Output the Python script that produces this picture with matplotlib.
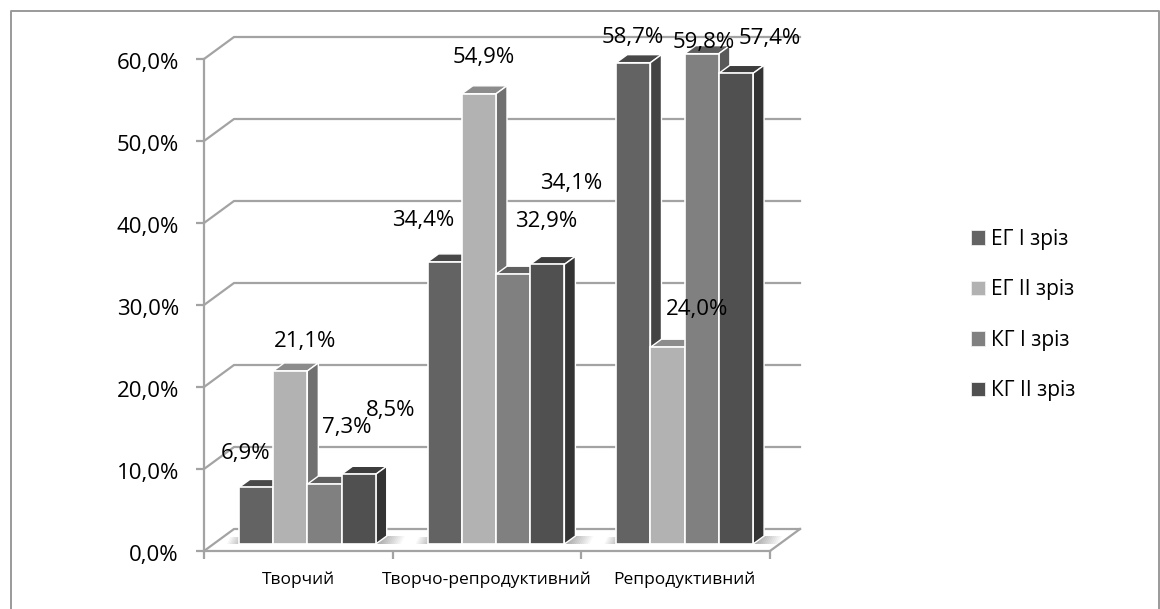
import numpy as np
import matplotlib
matplotlib.use("Agg")
import matplotlib.pyplot as plt
from matplotlib.lines import Line2D
from matplotlib.patches import Patch, Polygon
from matplotlib.transforms import ScaledTranslation

categories = ["Творчий", "Творчо-репродуктивний", "Репродуктивний"]
series_names = ["ЕГ І зріз", "ЕГ ІІ зріз", "КГ І зріз", "КГ ІІ зріз"]
eg_1 = [6.9, 34.4, 58.7]
eg_2 = [21.1, 54.9, 24.0]
kg_1 = [7.3, 32.9, 59.8]
kg_2 = [8.5, 34.1, 57.4]
y_ticks = [0, 10, 20, 30, 40, 50, 60]

# front, top and side shades of each series
front_colors = ["#636363", "#b2b2b2", "#808080", "#505050"]
top_colors = ["#484848", "#8c8c8c", "#5f5f5f", "#3d3d3d"]
side_colors = ["#434343", "#707070", "#595959", "#333333"]
grid_color = "#a3a3a3"

W, H = 1160, 609
plt.rcParams["font.family"] = ["Open Sans", "DejaVu Sans"]


def fmt(v):
    return f"{v:.1f}".replace(".", ",") + "%"


fig = plt.figure(figsize=(W / 100, H / 100), dpi=100, facecolor="white")
ax = fig.add_axes([204 / W, (H - 551) / H, 566 / W, 492 / H])
ax.set_xlim(0, 3)
ax.set_ylim(0, 60)
ax.patch.set_alpha(0)

# pixel sizes expressed in data units
ux = 3 / 566
uy = 60 / 492
depth_x, depth_y = 30 * ux, 22 * uy
bar_w = 34.2 * ux
bar_dx, bar_dy = 9 * ux, 7 * uy
cap_x, cap_y = 11 * ux, 8 * uy

# walls and floor
for t in y_ticks:
    ax.plot([0, depth_x, 3 + depth_x], [t, t + depth_y, t + depth_y],
            color=grid_color, lw=1.6, clip_on=False, zorder=1)
ax.plot([3, 3 + depth_x], [0, depth_y], color=grid_color, lw=1.6, clip_on=False, zorder=1)


def floor_shadow(x0, y0, zorder=2):
    # soft grey shadow on the floor, fading away from the bars
    steps = 12
    for k in range(steps):
        a = x0 + k * 2 * ux
        shade = Polygon([(a, y0), (a + 2.2 * ux, y0), (a + 6 * ux, y0 + 8 * uy), (a + 3.8 * ux, y0 + 8 * uy)],
                        closed=True, fc="#777777", ec="none", alpha=0.6 * (1 - k / steps),
                        clip_on=False, zorder=zorder)
        ax.add_patch(shade)


all_series = [eg_1, eg_2, kg_1, kg_2]
for i in range(len(categories)):
    start = i + 0.5 + bar_dx - 2 * bar_w
    floor_shadow(start + 4 * bar_w + 1 * ux, bar_dy)
    for k in range(8):
        a = start - (k + 1) * 1.5 * ux
        ax.add_patch(Polygon([(a, bar_dy), (a + 1.6 * ux, bar_dy), (a + 5 * ux, bar_dy + 7 * uy), (a + 3.4 * ux, bar_dy + 7 * uy)],
                             closed=True, fc="#8a8a8a", ec="none", alpha=0.5 * (1 - k / 8),
                             clip_on=False, zorder=2))
    for j, values in enumerate(all_series):
        x0 = start + j * bar_w
        x1 = x0 + bar_w
        y0 = bar_dy
        y1 = values[i] + bar_dy
        z = 3 + i * 10 + j
        ax.add_patch(Polygon([(x0, y1), (x0 + cap_x, y1 + cap_y), (x1 + cap_x, y1 + cap_y), (x1, y1)],
                             closed=True, fc=top_colors[j], ec="white", lw=1.0, clip_on=False, zorder=z))
        ax.add_patch(Polygon([(x1, y0), (x1 + cap_x, y0 + cap_y), (x1 + cap_x, y1 + cap_y), (x1, y1)],
                             closed=True, fc=side_colors[j], ec="white", lw=1.0, clip_on=False, zorder=z))
        ax.add_patch(Polygon([(x0, y0), (x1, y0), (x1, y1), (x0, y1)],
                             closed=True, fc=front_colors[j], ec="white", lw=1.2, clip_on=False, zorder=z))

# data labels sit at hand-placed offsets from each bar's top centre, in pixels
label_offsets = [
    [(-10, 34), (15, 29), (22, 57), (32, 64)],
    [(-22, 41), (5, 36), (33, 53), (24, 81)],
    [(-1, 25), (29, 38), (2, 11), (34, 35)],
]
for i in range(len(categories)):
    start = i + 0.5 + bar_dx - 2 * bar_w
    for j, values in enumerate(all_series):
        cx = start + (j + 0.5) * bar_w
        ax.annotate(fmt(values[i]), (cx, values[i] + bar_dy), xytext=label_offsets[i][j],
                    textcoords="offset pixels", ha="center", va="center",
                    fontsize=16, color="black", annotation_clip=False, zorder=60)

# axes
for name in ["top", "right"]:
    ax.spines[name].set_visible(False)
for name in ["left", "bottom"]:
    ax.spines[name].set_color(grid_color)
    ax.spines[name].set_linewidth(1.6)
ax.set_yticks(y_ticks)
ax.set_yticklabels([fmt(t) for t in y_ticks], fontsize=16)
ax.set_xticks(range(4))
ax.set_xticklabels([])
ax.tick_params(axis="both", length=6, width=1.6, color=grid_color, pad=12)
ax.tick_params(axis="x", pad=0)
# drop the value labels slightly below their ticks
nudge = ScaledTranslation(0, -2 / 100, fig.dpi_scale_trans)
for lab in ax.get_yticklabels():
    lab.set_transform(lab.get_transform() + nudge)

name_nudge = [0, 0, 9]
for i, name in enumerate(categories):
    ax.annotate(name, (i + 0.5, 0), xytext=(name_nudge[i], -29), textcoords="offset pixels",
                ha="center", va="center", fontsize=12.5, annotation_clip=False)

handles = [Patch(fc=c, ec="#eeeeee", lw=0.6) for c in front_colors]
fig.legend(handles, series_names, loc="center left", bbox_to_anchor=(952 / W, 1 - 315 / H),
           frameon=False, fontsize=15, handlelength=0.68, handleheight=0.68,
           handletextpad=0.3, labelspacing=1.41)

# chart frame, running off the lower edge
frame_x = [11 / W, 11 / W, 1159 / W, 1159 / W]
frame_y = [0, 1 - 11 / H, 1 - 11 / H, 0]
fig.add_artist(Line2D(frame_x, frame_y, color="#9a9a9a", lw=1.4, transform=fig.transFigure))

fig.savefig("out.png", dpi=100, facecolor="white")
